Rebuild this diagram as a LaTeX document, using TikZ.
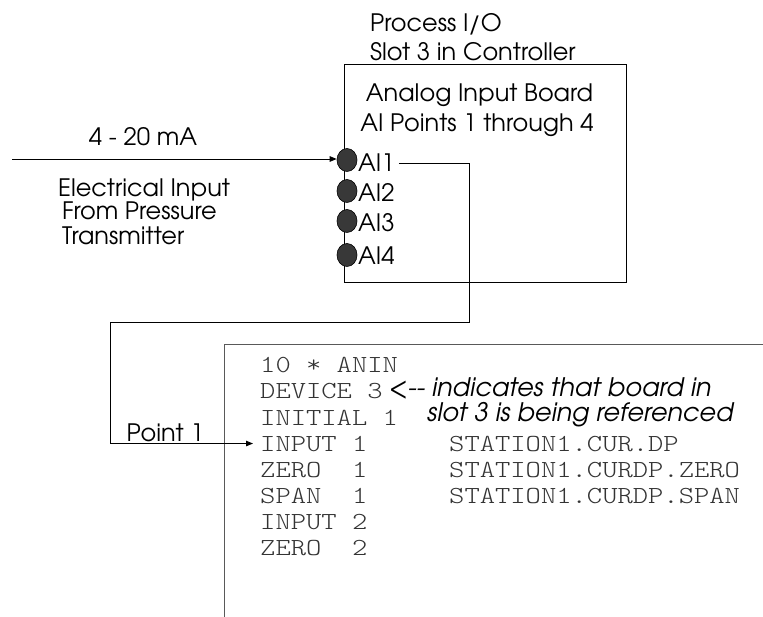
\documentclass[tikz,border=0pt]{standalone}
\usepackage{fontspec}
\usetikzlibrary{arrows.meta,shapes.geometric}
\setmainfont{texgyreadventor-regular.otf}[ItalicFont=texgyreadventor-italic.otf]
\newfontfamily\codefont{lmmonolt10-regular.otf}[FakeStretch=1.19]
\tikzset{
  lbl/.style={font=\fontsize{24}{27}\selectfont, inner sep=0pt},
  ann/.style={font=\fontsize{25.5}{27}\selectfont\itshape, inner sep=0pt, anchor=base west},
  codetxt/.style={font=\codefont\fontsize{24.5}{26}\selectfont, inner sep=0pt, anchor=base west, text=black!80},
  dotpt/.style={ellipse, draw=black, fill=black!78, minimum width=20pt, minimum height=23pt, inner sep=0pt, line width=0.6pt},
  conn/.style={line width=0.9pt, -{Triangle[length=7pt,width=5.5pt]}},
  frame/.style={line width=1pt, draw=black!65},
}
\begin{document}
\begin{tikzpicture}[x=1pt,y=-1pt]
\path[use as bounding box] (0,0) rectangle (763,617);

% board
\node[draw, line width=1pt, minimum width=282pt, minimum height=218pt, inner sep=0pt] (board) at (485,174) {};
\node[lbl, anchor=base west] (pio) at (370,32) {Process I/O};
\node[lbl, anchor=base west] (slot) at (370,61) {Slot 3 in Controller};
\node[lbl, anchor=base] (aib) at (479.5,102) {Analog Input Board};
\node[lbl, anchor=base] (aip) at (477,132) {AI Points 1 through 4};

% input points
\node[dotpt] (dot1) at (347,160) {};
\node[dotpt] (dot2) at (347,191) {};
\node[dotpt] (dot3) at (347,221) {};
\node[dotpt] (dot4) at (347,255) {};
\node[lbl, anchor=base west] (ai1) at (358,172) {AI1};
\node[lbl, anchor=base west] (ai2) at (358,202) {AI2};
\node[lbl, anchor=base west] (ai3) at (358,232) {AI3};
\node[lbl, anchor=base west] (ai4) at (358,265) {AI4};

% left labels
\node[lbl, anchor=base] (ma) at (143,146) {4 - 20 mA};
\node[lbl, anchor=base west] (el1) at (58,197) {Electrical Input};
\node[lbl, anchor=base west] (el2) at (62,220) {From Pressure};
\node[lbl, anchor=base west] (el3) at (62,245) {Transmitter};
\node[lbl, anchor=base east] (pt1) at (204,442) {Point 1};

% code listing
\coordinate (cb1) at (224,617);
\coordinate (cb2) at (224,345);
\coordinate (cb3) at (763,345);
\draw[frame] (cb1) -- (cb2) -- (cb3);
\node[codetxt] (code1) at (260,373) {10 * ANIN};
\node[codetxt] (code2) at (260,399) {DEVICE 3};
\node[codetxt] (code3) at (260,425) {INITIAL 1};
\node[codetxt] (code4) at (260,451) {INPUT 1};
\node[codetxt] (code5) at (260,477) {ZERO\ \ 1};
\node[codetxt] (code6) at (260,503) {SPAN\ \ 1};
\node[codetxt] (code7) at (260,529) {INPUT 2};
\node[codetxt] (code8) at (260,555) {ZERO\ \ 2};
\node[codetxt] (st1) at (449,451) {STATION1.CUR.DP};
\node[codetxt] (st2) at (449,477) {STATION1.CURDP.ZERO};
\node[codetxt] (st3) at (449,503) {STATION1.CURDP.SPAN};
\node[ann] (an1) at (389,397) {<{-}{-} indicates that board in};
\node[ann] (an2) at (427,421) {slot 3 is being referenced};

% connectors
\coordinate (in0) at (12,159);
\draw[conn] (in0) -- (in0 -| dot1.west);
\coordinate (k1) at (469,163);
\coordinate (k2) at (469,322);
\coordinate (k3) at (110,322);
\draw[conn] ([xshift=4pt]ai1.east |- k1) -- (k1) -- (k2) -- (k3) |- ([xshift=-7pt]code4.west);
\end{tikzpicture}
\end{document}
